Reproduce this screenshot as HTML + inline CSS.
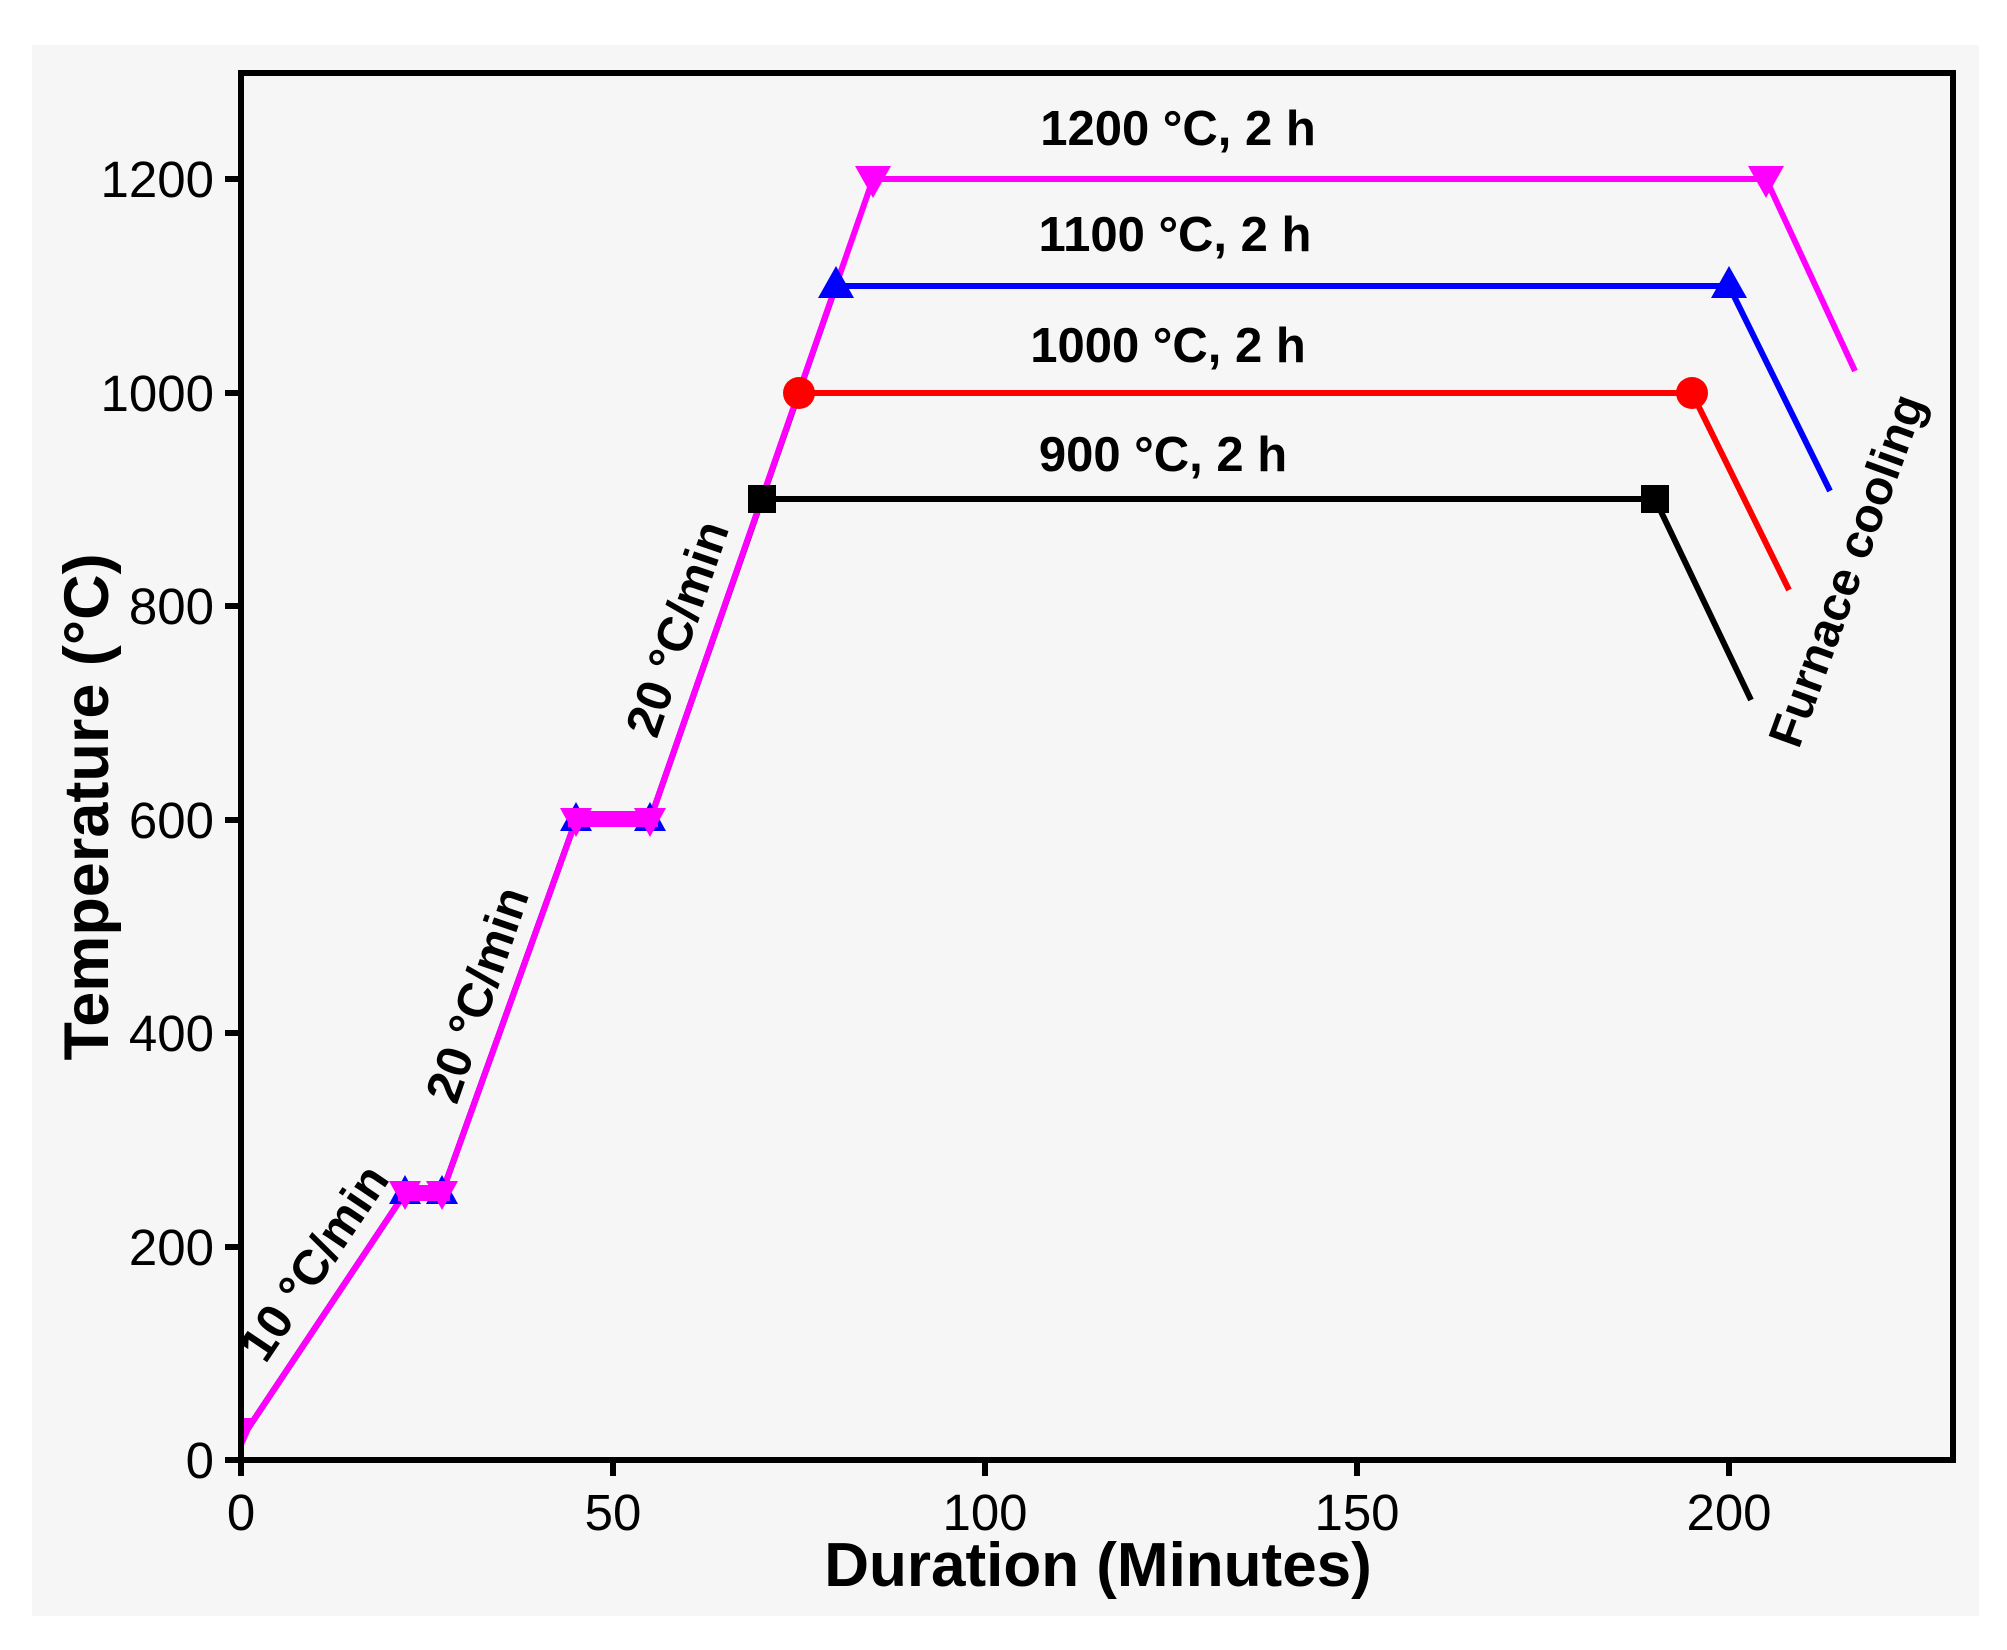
<!DOCTYPE html>
<html><head><meta charset="utf-8"><style>
html,body{margin:0;padding:0;background:#fff;}
svg{display:block;}
text{font-family:"Liberation Sans",Arial,sans-serif;}
</style></head><body>
<svg width="2007" height="1650" viewBox="0 0 2007 1650" xmlns="http://www.w3.org/2000/svg">
<rect x="0" y="0" width="2007" height="1650" fill="#fff"/>
<rect x="32" y="45" width="1947" height="1571" fill="#f6f6f6"/>
<g fill="none" stroke-width="6" stroke-linejoin="round">
<polyline stroke="#000" points="241,1439 405,1193 442,1193 576,820 650,820 762,499 1655,499 1751,700"/>
<polyline stroke="#f00" points="241,1439 405,1193 442,1193 576,820 650,820 799,393 1692,393 1789,590"/>
<polyline stroke="#00f" points="241,1439 405,1193 442,1193 576,820 650,820 836,286 1729,286 1830,491"/>
<polyline stroke="#f0f" points="241,1439 405,1193 442,1193 576,820 650,820 873,179 1766,179 1855,371"/>
</g>
<g fill="#000"><rect x="748" y="485" width="28" height="28"/><rect x="1641" y="485" width="28" height="28"/></g>
<g fill="#f00"><circle cx="799" cy="393" r="16"/><circle cx="1692" cy="393" r="16"/></g>
<g fill="#00f">
<polygon points="836,266 854,298 818,298"/><polygon points="1729,266 1747,298 1711,298"/>
<polygon points="405,1175 421,1204 389,1204"/><polygon points="442,1175 458,1204 426,1204"/>
<polygon points="576,802 592,831 560,831"/><polygon points="650,802 666,831 634,831"/>
</g>
<g fill="#f0f">
<polygon points="855,166 891,166 873,198"/><polygon points="1748,166 1784,166 1766,198"/>
<polygon points="389,1181 421,1181 405,1210"/><polygon points="426,1181 458,1181 442,1210"/>
<polygon points="560,808 592,808 576,837"/><polygon points="634,808 666,808 650,837"/>
<polygon points="241,1418 256,1418 241,1452"/>
<rect x="398" y="1185" width="52" height="16"/><rect x="568" y="811" width="90" height="16"/>
</g>
<rect x="241" y="73" width="1712" height="1387" fill="none" stroke="#000" stroke-width="6"/>
<g stroke="#000" stroke-width="6">
<line x1="241" y1="1460" x2="241" y2="1476"/><line x1="613" y1="1460" x2="613" y2="1476"/>
<line x1="985" y1="1460" x2="985" y2="1476"/><line x1="1357" y1="1460" x2="1357" y2="1476"/>
<line x1="1729" y1="1460" x2="1729" y2="1476"/>
<line x1="225" y1="1460" x2="241" y2="1460"/><line x1="225" y1="1247" x2="241" y2="1247"/>
<line x1="225" y1="1033" x2="241" y2="1033"/><line x1="225" y1="820" x2="241" y2="820"/>
<line x1="225" y1="606" x2="241" y2="606"/><line x1="225" y1="393" x2="241" y2="393"/>
<line x1="225" y1="179" x2="241" y2="179"/>
</g>
<g font-size="51" text-anchor="end" fill="#000">
<text x="214" y="1478">0</text><text x="214" y="1265">200</text><text x="214" y="1051">400</text>
<text x="214" y="838">600</text><text x="214" y="624">800</text><text x="214" y="411">1000</text>
<text x="214" y="197">1200</text>
</g>
<g font-size="51" text-anchor="middle" fill="#000">
<text x="241" y="1530">0</text><text x="613" y="1530">50</text><text x="985" y="1530">100</text>
<text x="1357" y="1530">150</text><text x="1729" y="1530">200</text>
</g>
<text x="1098" y="1586" font-size="62" font-weight="bold" text-anchor="middle">Duration (Minutes)</text>
<text transform="translate(108,807) rotate(-90)" font-size="63" font-weight="bold" text-anchor="middle">Temperature (°C)</text>
<g font-size="49" font-weight="bold" text-anchor="middle">
<text x="1178" y="145">1200 °C, 2 h</text>
<text x="1175" y="251">1100 °C, 2 h</text>
<text x="1168" y="362">1000 °C, 2 h</text>
<text x="1163" y="471">900 °C, 2 h</text>
<text transform="translate(328,1272) rotate(-56)">10 °C/min</text>
<text transform="translate(493,1000) rotate(-71)">20 °C/min</text>
<text transform="translate(693,634) rotate(-71)">20 °C/min</text>
</g>
<text transform="translate(1862,576) rotate(-70)" font-size="48" font-weight="bold" text-anchor="middle">Furnace cooling</text>
</svg>
</body></html>
